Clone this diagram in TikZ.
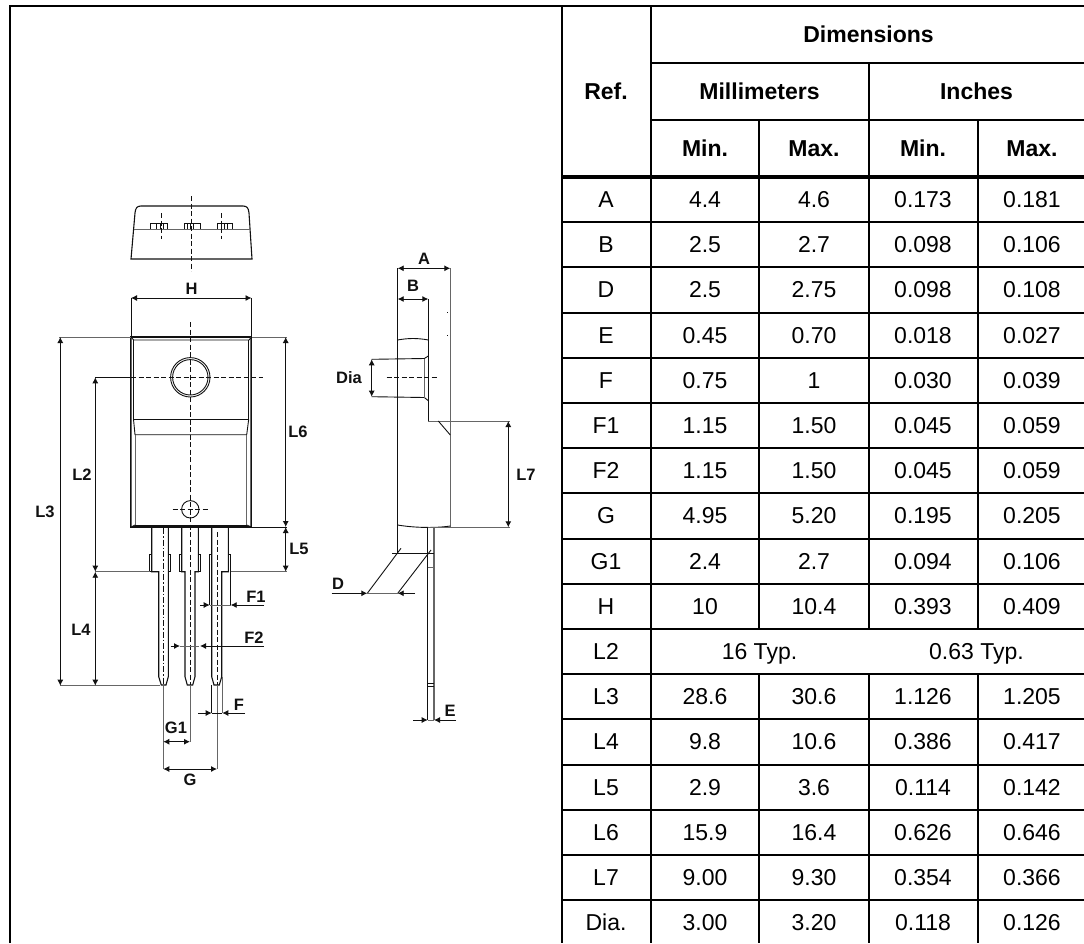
\documentclass[tikz,border=0pt]{standalone}
\usepackage{fontspec}
\setmainfont{Liberation Sans}
\usetikzlibrary{arrows.meta}
\definecolor{ink}{HTML}{111111}
\definecolor{soft}{HTML}{666666}
\tikzset{
 x=1pt,y=-1pt,
 grid/.style={line width=2pt,black},
 gridthick/.style={line width=4pt,black},
 cellb/.style={inner sep=0,anchor=base,font=\fontsize{23}{26}\bfseries\selectfont,text=black},
 cellt/.style={inner sep=0,anchor=base,font=\fontsize{23}{26}\selectfont,text=black},
 lab/.style={inner sep=0,font=\fontsize{16.5}{18}\bfseries\selectfont,text=ink},
 thin/.style={line width=0.9pt,ink},
 outline/.style={line width=1.1pt,ink},
 shade/.style={line width=1.3pt,soft},
 dim/.style={line width=0.9pt,ink,{Latex[length=6pt,width=6pt]}-{Latex[length=6pt,width=6pt]}},
 tip/.style={line width=0.9pt,ink,-{Latex[length=6pt,width=6pt]}},
 axis/.style={line width=0.9pt,ink,dash pattern=on 5pt off 2.5pt},
 axisdd/.style={line width=0.9pt,ink,dash pattern=on 6pt off 2pt on 1.5pt off 2pt},
}
\begin{document}
\begin{tikzpicture}
\useasboundingbox (0,0) rectangle (1084,943);
\fill[white] (0,0) rectangle (1084,943);
% ---------- frame and table
\draw[grid] (10,943) -- (10,6) -- (1084,6);
\draw[grid] (562,6) -- (562,943);
\draw[grid] (651,6) -- (651,943);
\draw[grid] (869,63) -- (869,629);
\draw[grid] (869,674) -- (869,943);
\draw[grid] (759,120) -- (759,629);
\draw[grid] (759,674) -- (759,943);
\draw[grid] (978,120) -- (978,629);
\draw[grid] (978,674) -- (978,943);
\draw[grid] (651,63) -- (1084,63);
\draw[grid] (651,120) -- (1084,120);
\draw[gridthick] (562,177) -- (1084,177);
\foreach \k in {222,267,313,358,403,448,493,539,584,629,674,719,765,810,855,900} \draw[grid] (562,\k) -- (1084,\k);
\node[cellb] (hdim) at (868.5,42) {Dimensions};
\node[cellb] (href) at (606,99) {Ref.};
\node[cellb] (hmm) at (759.5,99) {Millimeters};
\node[cellb] (hin) at (976.5,99) {Inches};
\node[cellb] (hmin1) at (705,156) {Min.};
\node[cellb] (hmax1) at (814,156) {Max.};
\node[cellb] (hmin2) at (923,156) {Min.};
\node[cellb] (hmax2) at (1032,156) {Max.};
\foreach \r/\a/\b/\c/\d [count=\i from 0] in {
 A/4.4/4.6/0.173/0.181,B/2.5/2.7/0.098/0.106,D/2.5/2.75/0.098/0.108,
 E/0.45/0.70/0.018/0.027,F/0.75/1/0.030/0.039,F1/1.15/1.50/0.045/0.059,
 F2/1.15/1.50/0.045/0.059,G/4.95/5.20/0.195/0.205,G1/2.4/2.7/0.094/0.106,
 H/10/10.4/0.393/0.409}{
 \pgfmathsetmacro\yy{207.5+45.2*\i}
 \node[cellt] (r\i) at (606,\yy) {\r};
 \node[cellt] (r\i a) at (705,\yy) {\a};
 \node[cellt] (r\i b) at (814,\yy) {\b};
 \node[cellt] (r\i c) at (923,\yy) {\c};
 \node[cellt] (r\i d) at (1032,\yy) {\d};
}
\node[cellt] (rL2) at (606,659.5) {L2};
\node[cellt] (rL2m) at (759.5,659.5) {16 Typ.};
\node[cellt] (rL2i) at (976.5,659.5) {0.63 Typ.};
\foreach \r/\a/\b/\c/\d [count=\i from 11] in {
 L3/28.6/30.6/1.126/1.205,L4/9.8/10.6/0.386/0.417,L5/2.9/3.6/0.114/0.142,
 L6/15.9/16.4/0.626/0.646,L7/9.00/9.30/0.354/0.366,Dia./3.00/3.20/0.118/0.126}{
 \pgfmathsetmacro\yy{207.5+45.2*\i}
 \node[cellt] (r\i) at (606,\yy) {\r};
 \node[cellt] (r\i a) at (705,\yy) {\a};
 \node[cellt] (r\i b) at (814,\yy) {\b};
 \node[cellt] (r\i c) at (923,\yy) {\c};
 \node[cellt] (r\i d) at (1032,\yy) {\d};
}
% ---------- top view
\draw[outline] (131,259) -- (135,213) .. controls (135.5,208) and (137,206) .. (141,206) -- (243,206)
  .. controls (247,206) and (248.5,208) .. (249,213) -- (252,259) -- cycle;
\draw[shade] (134,229.3) -- (250,229.3);
\foreach \xa/\xb/\xc/\xd/\xe in {150.7/156/160/163/167,184/187/190/193/200,217/221/224/227/232.7}{
 \draw[thin] (\xa,229) -- (\xa,223) -- (\xe,223) -- (\xe,229);
 \draw[thin] (\xb,223) -- (\xb,229) (\xc,223) -- (\xc,229) (\xd,223) -- (\xd,229);
}
\draw[axis] (191,196) -- (191,271);
\draw[axis] (161,213) -- (161,239);
\draw[axis] (221,213) -- (221,239);
% ---------- front view: body
\draw[outline] (131,527) -- (131,337) -- (251.5,337) -- (251.5,527) -- cycle;
\draw[shade] (131.6,337) -- (131.6,527);
\draw[shade] (250.5,337) -- (250.5,527);
\draw[thin] (131,337) -- (133.7,340) -- (249,340) -- (251.5,337);
\draw[thin] (133.5,340) -- (133.5,419.3) -- (248.7,419.3) -- (248.7,340);
\draw[thin] (133.5,419.3) -- (135,434.7) -- (246.7,434.7) -- (248.7,419.3);
\draw[shade,line width=1pt] (135,434.7) -- (135,525) (246.7,434.7) -- (246.7,525);
\draw[thin] (135,525) -- (246.7,525);
\draw[thin] (131,527) -- (135,525) (251.5,527) -- (246.7,525);
\draw[thin] (190.3,377.3) circle[radius=19.7];
\draw[thin] (190.3,377.3) circle[radius=17.7];
\draw[thin] (190.3,509.3) circle[radius=8.7];
\draw[axis] (190.3,322) -- (190.3,685);
\draw[axis] (131,377.3) -- (263,377.3);
\draw[axis] (172.7,509.3) -- (209,509.3);
% ---------- leads
\draw[outline] (151.7,527) -- (151.7,571.7) -- (158.7,571.7) -- (158.7,676.7) -- (161.3,685) -- (166,685) -- (168.3,676.7) -- (168.3,527);
\draw[thin] (151.7,554) -- (149.3,554) -- (149.3,571.7) -- (151.7,571.7);
\draw[thin] (168.3,554) -- (170.7,554) -- (170.7,571.7) -- (168.3,571.7);
\draw[outline] (181.7,527) -- (181.7,571.7) -- (185,571.7) -- (185,676.7) -- (187.3,685) -- (192.7,685) -- (195,676.7) -- (195,571.7) -- (198.3,571.7) -- (198.3,527);
\draw[thin] (181.7,554) -- (179.3,554) -- (179.3,571.7) -- (181.7,571.7);
\draw[thin] (198.3,554) -- (200.7,554) -- (200.7,571.7) -- (198.3,571.7);
\draw[outline] (211.7,527) -- (211.7,676.7) -- (214,685) -- (219.3,685) -- (221.7,676.7) -- (221.7,571.7) -- (228.3,571.7) -- (228.3,527);
\draw[thin] (209.7,554) -- (211.7,554);
\draw[thin] (228.3,554) -- (230.7,554) -- (230.7,605);
\draw[thin] (209.7,554) -- (209.7,605);
\draw[axisdd] (163.3,528) -- (163.3,685);
\draw[axis] (217.3,532) -- (217.3,685);
% ---------- front view: dimensions
\draw[thin] (131,337) -- (131,298) (251.5,337) -- (251.5,298);
\draw[dim] (131,298) -- (251.5,298);
\node[lab] (lH) at (191.5,289) {H};
\draw[shade,line width=1pt] (59,337) -- (131,337) (251.5,337) -- (287,337);
\draw[thin] (251.5,527) -- (287,527);
\draw[shade,line width=1pt] (95,571.7) -- (150,571.7) (230.7,571.7) -- (287,571.7);
\draw[shade,line width=1pt] (60,685.7) -- (160,685.7);
\draw[thin] (95.3,377.3) -- (131,377.3);
\draw[dim] (60.3,337) -- (60.3,685.7);
\draw[dim] (95.3,377.3) -- (95.3,571.7);
\draw[dim] (95.3,571.7) -- (95.3,685.7);
\draw[dim] (285.7,337) -- (285.7,527);
\draw[dim] (285.7,527) -- (285.7,571.7);
\node[lab] (lL3) at (45,512) {L3};
\node[lab] (lL2) at (82,475) {L2};
\node[lab] (lL4) at (81,630) {L4};
\node[lab] (lL6) at (298,432) {L6};
\node[lab] (lL5) at (299,549) {L5};
\draw[tip] (200,605) -- (209.7,605);
\draw[tip] (264,605) -- (230.7,605);
\draw[shade,line width=1pt] (209.7,605) -- (230.7,605);
\node[lab] (lF1) at (256,597) {F1};
\draw[tip] (170.7,646) -- (180,646);
\draw[tip] (264,646) -- (200,646);
\draw[shade,line width=1pt] (180,646) -- (199,646);
\node[lab] (lF2) at (254,638) {F2};
\draw[shade,line width=1pt] (163.3,685.7) -- (163.3,769);
\draw[shade,line width=1pt] (190,685) -- (190,741.7);
\draw[shade,line width=1pt] (217,685) -- (217,769);
\draw[thin] (211.7,685) -- (211.7,713);
\draw[shade,line width=1pt] (222.3,677) -- (222.3,713);
\draw[dim] (163.3,741.7) -- (190,741.7);
\draw[dim] (163.3,769) -- (217,769);
\node[lab] (lG1) at (176,728) {G1};
\node[lab] (lG) at (190,779.5) {G};
\draw[tip] (198,713) -- (211.7,713);
\draw[tip] (245,713) -- (222.3,713);
\draw[thin] (211.7,713) -- (222.3,713);
\node[lab] (lF) at (239,705) {F};
% ---------- side view
\draw[outline] (397.7,268.3) -- (397.7,553.3);
\draw[shade,line width=1pt] (450.3,268.3) -- (450.3,526.7);
\draw[dim] (397.7,268.3) -- (450.3,268.3);
\node[lab] (lA) at (424,259) {A};
\draw[dim] (397.7,299) -- (428.3,299);
\node[lab] (lB) at (413,286) {B};
\draw[outline] (428.3,299) -- (428.3,421);
\draw[shade,line width=1pt] (428.3,421) -- (510,421);
\draw[thin] (438.3,421) -- (450.3,435);
\draw[thin] (397.7,340) .. controls (408,338) and (418,338) .. (428.3,340);
\draw[thin] (397.7,525) .. controls (412,527.5) and (434,528.5) .. (450.3,526);
\draw[thin] (447,312.7) -- (448,312.7) (447,335) -- (448,335);
\draw[thin] (371.7,359.3) -- (424.3,358.5) -- (428.3,356);
\draw[thin] (371.7,396.7) -- (424.3,397.5) -- (428.3,400.7);
\draw[shade,line width=1pt] (424.3,358.5) -- (424.3,397.5);
\draw[dim] (371.7,359.3) -- (371.7,396.7);
\draw[axis] (386.7,377.3) -- (438.3,377.3);
\node[lab] (lDia) at (349,378) {Dia};
\draw[shade,line width=1pt] (434,527.3) -- (510,527.3);
\draw[dim] (508.3,421) -- (508.3,527.3);
\node[lab] (lL7) at (526,475) {L7};
% lead, side
\draw[outline] (427.7,527) -- (427.7,720);
\draw[shade] (434,527) -- (434,720);
\draw[shade,line width=1pt] (427.7,527.3) -- (434,527.3) (427.7,567.7) -- (434,567.7) (427.7,720) -- (434,720);
\draw[thin] (427.7,683.3) -- (434,683.3) (427.7,686.3) -- (434,686.3);
\draw[thin] (392.3,553.3) -- (434,553.3);
\draw[thin] (367.3,593.3) -- (401,548.3);
\draw[thin] (397.7,593.3) -- (431,550);
\draw[tip] (331.7,593.3) -- (367.3,593.3);
\draw[tip] (415,593.3) -- (397.7,593.3);
\draw[shade,line width=1pt] (367.3,593.3) -- (397.7,593.3);
\node[lab] (lD) at (338,584) {D};
\draw[tip] (413,720) -- (427.7,720);
\draw[tip] (456,720) -- (434,720);
\node[lab] (lE) at (450,711) {E};
\end{tikzpicture}
\end{document}
